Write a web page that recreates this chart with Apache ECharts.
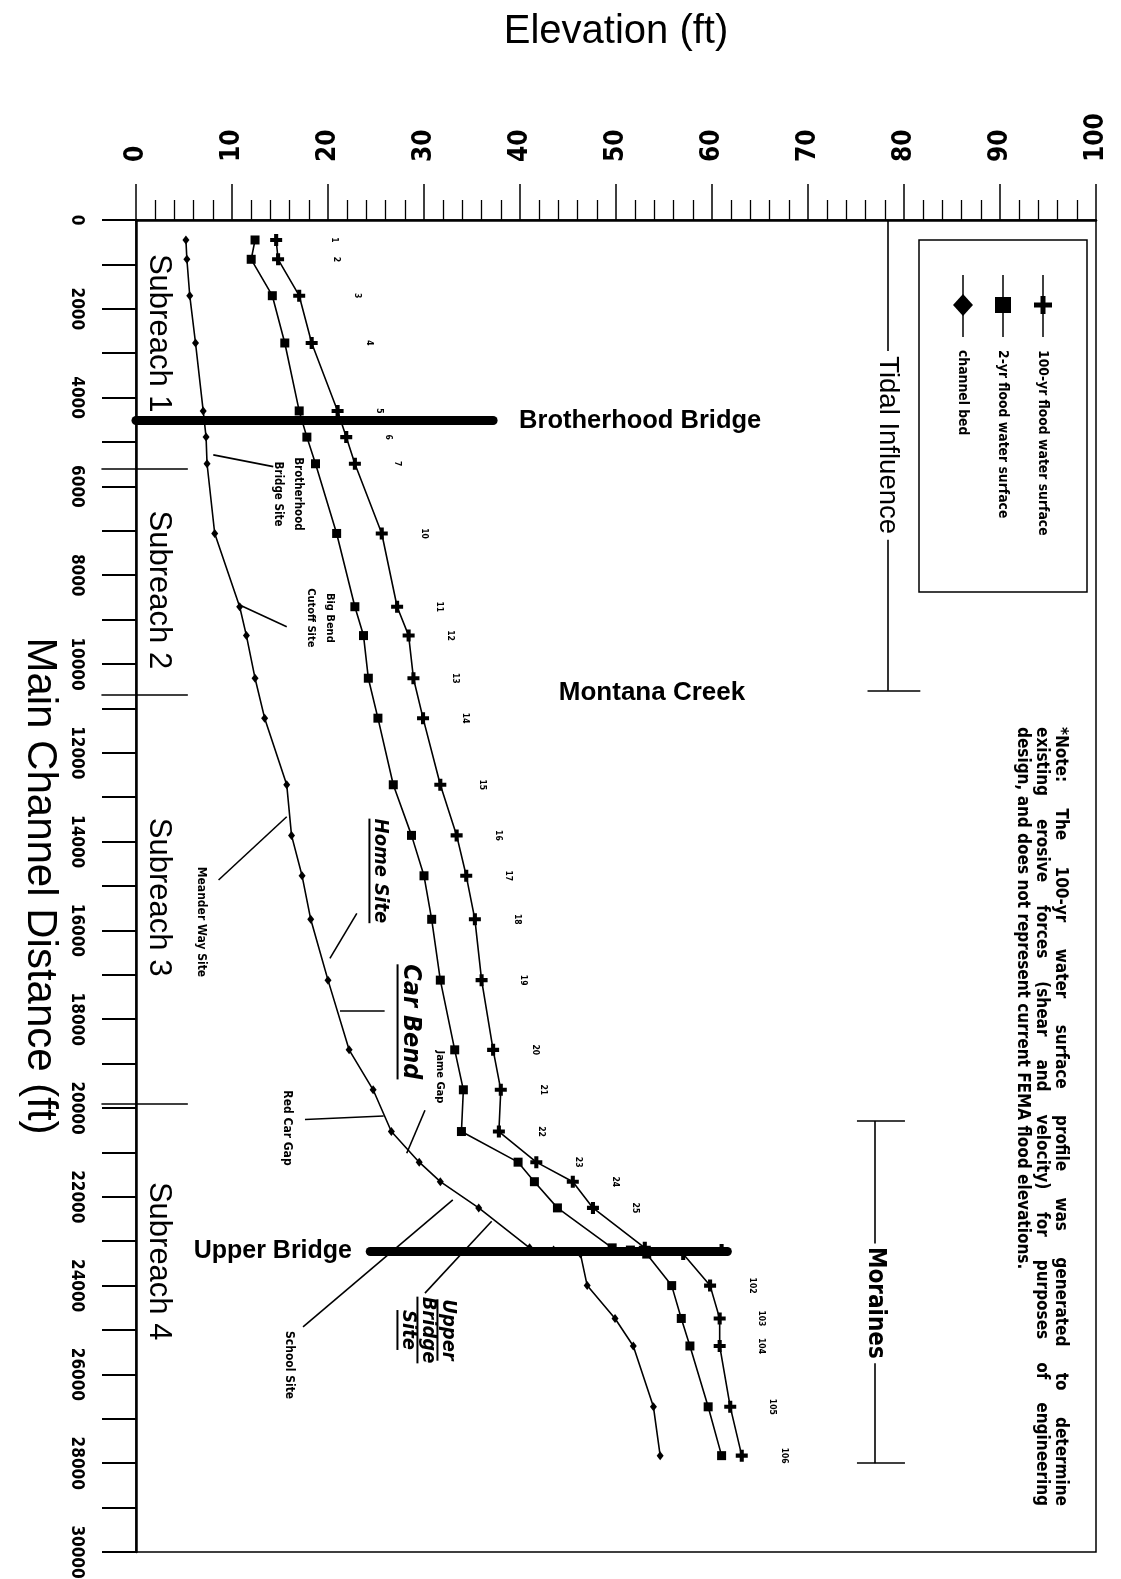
<!DOCTYPE html>
<html>
<head>
<meta charset="utf-8">
<script src="https://cdn.jsdelivr.net/npm/echarts@6/dist/echarts.min.js"></script>
<style>
  html, body { margin: 0; padding: 0; background: #fff; }
  #chart { width: 1121px; height: 1579px; }
</style>
</head>
<body>
<div id="chart"></div>
<script>
// Main channel distance of each surveyed cross-section (ft)
const distance = [450, 885, 1705, 2770, 4300, 4890, 5490, 7060, 8710, 9360,
  10320, 11220, 12720, 13860, 14770, 15750, 17120, 18690, 19590, 20530,
  21220, 21660, 22250, 23150, 23200, 23290, 24000, 24740, 25360, 26730, 27830];

// Elevation (ft) at each cross-section
const hundredYear = [14.6, 14.8, 17.0, 18.3, 21.0, 21.9, 22.8, 25.6, 27.2, 28.4,
  28.9, 29.9, 31.7, 33.4, 34.4, 35.3, 36.0, 37.2, 38.0, 37.8,
  41.7, 45.5, 47.6, 53.0, 61.0, 57.0, 59.8, 60.8, 60.8, 61.9, 63.1];
const twoYear = [12.4, 12.0, 14.2, 15.5, 17.0, 17.8, 18.7, 20.9, 22.8, 23.7,
  24.2, 25.2, 26.8, 28.7, 30.0, 30.8, 31.7, 33.2, 34.1, 33.9,
  39.8, 41.5, 43.9, 49.6, 51.5, 53.2, 55.8, 56.8, 57.7, 59.6, 61.0];
const channelBed = [5.2, 5.3, 5.6, 6.2, 7.0, 7.3, 7.4, 8.2, 10.8, 11.5,
  12.4, 13.4, 15.7, 16.2, 17.3, 18.2, 20.0, 22.2, 24.7, 26.6,
  29.5, 31.7, 35.7, 41.0, 43.5, 46.3, 47.0, 49.9, 51.8, 53.9, 54.6];

const seriesNames = ['100-yr flood water surface', '2-yr flood water surface', 'channel bed'];

// Cross-section numbers written beside the 100-yr profile (index into distance)
const stationIndex = [0, 1, 2, 3, 4, 5, 6, 7, 8, 9, 10, 11, 12, 13, 14, 15, 16, 17, 18, 19, 20, 21, 22, 26, 27, 28, 29, 30];
const stationNumber = ['1', '2', '3', '4', '5', '6', '7', '10', '11', '12', '13', '14', '15', '16', '17', '18', '19',
  '20', '21', '22', '23', '24', '25', '102', '103', '104', '105', '106'];

// Bridges: distance (ft) and elevation span (ft)
const bridgeNames = ['Brotherhood Bridge', 'Upper Bridge'];
const bridgeDistance = [4500, 23220];
const bridgeFrom = [0, 24.4];
const bridgeTo = [37.2, 61.6];

// Subreach boundaries and names
const subreachBounds = [5600, 10700, 19900];
const subreachNames = ['Subreach 1', 'Subreach 2', 'Subreach 3', 'Subreach 4'];
const subreachCentres = [2550, 8330, 15250, 23450];

// Axis ticks
const elevTicks = [0, 100, 10];
const distTicks = [0, 30000, 1000];

const noteLines = [
  '*Note: The 100-yr water surface profile was generated to determine',
  'existing erosive forces (shear and velocity) for purposes of engineering',
  'design, and does not represent current FEMA flood elevations.'
];

const NARROW = "'Liberation Sans Narrow','DejaVu Sans Condensed','Liberation Sans',Arial,sans-serif";
const SANS = "'Liberation Sans',Arial,sans-serif";
const plusPath = 'path://M3.3,0H6.7V3.3H10V6.7H6.7V10H3.3V6.7H0V3.3H3.3Z';

function profile(values) {
  return distance.map((d, i) => [values[i], d]);
}

// Text annotations placed in (elevation, distance) space
const annotations = [
  { text: 'Brotherhood\nBridge Site', at: [15.8, 6170], size: 11.5, lh: 20 },
  { text: 'Big Bend\nCutoff Site', at: [19.2, 8960], size: 11, lh: 19 },
  { text: 'Meander Way Site', at: [6.8, 15810], size: 12 },
  { text: 'Home Site', at: [25.4, 14660], size: 20, italic: true, underline: true },
  { text: 'Car Bend', at: [28.6, 18060], size: 25, italic: true, underline: true },
  { text: 'Jame Gap', at: [31.7, 19300], size: 11 },
  { text: 'Red Car Gap', at: [15.7, 20450], size: 12 },
  { text: 'School Site', at: [15.9, 25790], size: 12 },
  { text: 'Upper\nBridge\nSite', at: [30.4, 25000], size: 20, italic: true, lh: 20, underline: true },
  { text: 'Tidal Influence', at: [78.3, 5070], size: 27.5, weight: 'normal', font: SANS },
  { text: 'Moraines', at: [77.0, 24390], size: 24 },
  { text: bridgeNames[0], at: [39.9, 4520], size: 25.5, upright: true, align: 'left', font: SANS },
  { text: bridgeNames[1], at: [22.5, 23230], size: 25, upright: true, align: 'right', font: SANS },
  { text: 'Montana Creek', at: [53.75, 10650], size: 26, upright: true, font: SANS }
];
subreachNames.forEach((n, i) => {
  annotations.push({ text: n, at: [2.3, subreachCentres[i]], size: 31, font: SANS, weight: 'normal' });
});

// Leader lines, brackets and boundary marks
const guides = [
  [[8.05, 5290], [14.3, 5555]],
  [[10.8, 8670], [15.7, 9160]],
  [[15.7, 13440], [8.6, 14865]],
  [[23.0, 15615], [20.2, 16630]],
  [[21.25, 17800], [25.9, 17800]],
  [[30.1, 20050], [28.2, 21020]],
  [[17.6, 20260], [25.8, 20180]],
  [[33.0, 22070], [17.4, 24930]],
  [[37.05, 22550], [30.1, 24170]],
  // Tidal influence bracket
  [[78.3, 0], [78.3, 2950]],
  [[78.3, 7200], [78.3, 10600]],
  [[76.2, 10600], [81.7, 10600]],
  // Moraines bracket
  [[77.0, 20290], [77.0, 23050]],
  [[77.0, 25750], [77.0, 28000]],
  [[75.1, 20290], [80.1, 20290]],
  [[75.1, 28000], [80.1, 28000]]
];
subreachBounds.forEach(d => guides.push([[-3.6, d], [5.4, d]]));

const chart = echarts.init(document.getElementById('chart'), null, { renderer: 'canvas' });

const lineStyle = { color: '#000', width: 1.6 };

function labelFont(a) {
  return (a.italic ? 'italic ' : '') + (a.weight || 'bold') + ' ' + a.size + 'px ' + (a.font || NARROW);
}

const option = {
  animation: false,
  backgroundColor: '#fff',
  grid: {
    left: 136, top: 220, width: 960, height: 1332,
    show: true, borderColor: '#000', borderWidth: 1.5, backgroundColor: 'transparent',
    containLabel: false, outerBoundsMode: 'none'
  },
  xAxis: {
    type: 'value', position: 'top',
    min: elevTicks[0], max: elevTicks[1], interval: elevTicks[2],
    name: 'Elevation (ft)', nameLocation: 'middle', nameGap: 168,
    nameTextStyle: { fontSize: 40, color: '#000', fontFamily: SANS },
    axisLine: { show: true, onZero: false, lineStyle: { color: '#000', width: 2.5 } },
    axisTick: { show: true, length: 36, lineStyle: { color: '#000', width: 1.5 } },
    minorTick: { show: true, splitNumber: 5, length: 20, lineStyle: { color: '#000', width: 1.3 } },
    splitLine: { show: false },
    axisLabel: { rotate: -90, margin: 58, fontSize: 26, fontWeight: 'bold', color: '#000', fontFamily: NARROW }
  },
  yAxis: {
    type: 'value', inverse: true,
    min: distTicks[0], max: distTicks[1], interval: distTicks[2],
    name: 'Main Channel Distance (ft)', nameLocation: 'middle', nameRotate: -90, nameGap: 30,
    nameTextStyle: { fontSize: 42, color: '#000', fontFamily: SANS },
    axisLine: { show: true, onZero: false, lineStyle: { color: '#000', width: 2.5 } },
    axisTick: { show: true, length: 34, lineStyle: { color: '#000', width: 1.8 } },
    splitLine: { show: false },
    axisLabel: {
      rotate: -90, margin: 51, fontSize: 17, fontWeight: 'bold', color: '#000', fontFamily: NARROW,
      formatter: v => (v % 2000 === 0 ? String(v) : '')
    }
  },
  series: [
    {
      name: seriesNames[0], type: 'line', data: profile(hundredYear),
      symbol: plusPath, symbolSize: 12, showSymbol: true, showAllSymbol: true,
      lineStyle, itemStyle: { color: '#000' }, z: 3
    },
    {
      name: seriesNames[1], type: 'line', data: profile(twoYear),
      symbol: 'rect', symbolSize: 9, showSymbol: true, showAllSymbol: true,
      lineStyle, itemStyle: { color: '#000' }, z: 3
    },
    {
      name: seriesNames[2], type: 'line', data: profile(channelBed),
      symbol: 'diamond', symbolSize: [7, 9], showSymbol: true, showAllSymbol: true,
      lineStyle, itemStyle: { color: '#000' }, z: 3
    },
    {
      type: 'lines', coordinateSystem: 'cartesian2d', silent: true, clip: false, z: 2,
      lineStyle: { color: '#000', width: 1.6, opacity: 1 },
      data: guides.map(c => ({ coords: c }))
    },
    {
      type: 'lines', coordinateSystem: 'cartesian2d', silent: true, clip: false, z: 6,
      lineStyle: { color: '#000', width: 9, opacity: 1, cap: 'round' },
      data: bridgeDistance.map((d, i) => ({ coords: [[bridgeFrom[i], d], [bridgeTo[i], d]] }))
    },
    {
      type: 'scatter', silent: true, symbolSize: 0, z: 4, itemStyle: { opacity: 1 },
      data: stationIndex.map((idx, k) => ({
        value: [hundredYear[idx], distance[idx]],
        label: {
          show: true, formatter: stationNumber[k], position: 'inside',
          offset: [0, k < 4 ? -58 : -42], rotate: -90,
          fontSize: 8.5, fontWeight: 'bold', color: '#000', fontFamily: NARROW
        }
      }))
    },
    {
      type: 'scatter', silent: true, symbolSize: 0, z: 8, itemStyle: { opacity: 1 },
      data: annotations.map(a => ({
        value: a.at,
        label: {
          show: true, formatter: a.text, position: 'inside',
          rotate: a.upright ? 0 : -90,
          align: a.align || 'center', verticalAlign: 'middle',
          fontSize: a.size, lineHeight: a.lh || Math.round(a.size * 1.15),
          fontWeight: a.weight || 'bold', fontStyle: a.italic ? 'italic' : 'normal',
          fontFamily: a.font || NARROW, color: '#000', opacity: 1
        }
      }))
    }
  ]
};

chart.setOption(option);

// Text measurement for the rotated legend, note and underlines
const measureCtx = document.createElement('canvas').getContext('2d');
function textWidth(t, font) {
  measureCtx.font = font;
  return measureCtx.measureText(t).width;
}
const ROT = -Math.PI / 2;

const graphics = [];

// Legend box with rotated entries
const legendX = [1043, 1003, 963];
graphics.push({ type: 'rect', shape: { x: 919, y: 240, width: 168, height: 352 },
  style: { fill: 'none', stroke: '#000', lineWidth: 1.5 } });
seriesNames.forEach((n, i) => {
  const x = legendX[i];
  graphics.push({ type: 'line', shape: { x1: x, y1: 275, x2: x, y2: 337 }, style: { stroke: '#000', lineWidth: 1.5 } });
  if (i === 0) {
    graphics.push({ type: 'rect', shape: { x: x - 2.5, y: 296, width: 5, height: 18 }, style: { fill: '#000' } });
    graphics.push({ type: 'rect', shape: { x: x - 9, y: 302.5, width: 18, height: 5 }, style: { fill: '#000' } });
  } else if (i === 1) {
    graphics.push({ type: 'rect', shape: { x: x - 8, y: 297, width: 16, height: 16 }, style: { fill: '#000' } });
  } else {
    graphics.push({ type: 'polygon', shape: { points: [[x, 294], [x + 10, 305], [x, 316], [x - 10, 305]] }, style: { fill: '#000' } });
  }
  graphics.push({ type: 'text', x: x, y: 350, rotation: ROT,
    style: { text: n, fill: '#000', font: 'bold 13.8px ' + NARROW, textAlign: 'left', textVerticalAlign: 'middle' } });
});

// Note block: justified paragraph, last line set naturally
const noteX = [1060, 1041, 1022];
const noteTop = 727, noteLength = 779;
const noteFont = 'bold 17px ' + NARROW;
noteLines.forEach((t, i) => {
  const last = i === noteLines.length - 1;
  if (last) {
    graphics.push({ type: 'text', x: noteX[i], y: noteTop, rotation: ROT,
      style: { text: t, fill: '#000', font: noteFont, textAlign: 'left', textVerticalAlign: 'middle' } });
    return;
  }
  const words = t.split(' ');
  const widths = words.map(w => textWidth(w, noteFont));
  const total = widths.reduce((s, w) => s + w, 0);
  const gap = (noteLength - total) / (words.length - 1);
  let pos = noteTop;
  words.forEach((w, k) => {
    graphics.push({ type: 'text', x: noteX[i], y: pos, rotation: ROT,
      style: { text: w, fill: '#000', font: noteFont, textAlign: 'left', textVerticalAlign: 'middle' } });
    pos += widths[k] + gap;
  });
});

// Underlines beneath the emphasised site names (baseline side faces left)
annotations.filter(a => a.underline).forEach(a => {
  const p = chart.convertToPixel({ gridIndex: 0 }, a.at);
  const lines = a.text.split('\n');
  const lh = a.lh || Math.round(a.size * 1.15);
  const font = labelFont(a);
  lines.forEach((ln, k) => {
    const cx = p[0] + ((lines.length - 1) / 2 - k) * lh;
    const w = textWidth(ln, font);
    const ux = cx - a.size * 0.52;
    graphics.push({ type: 'line', shape: { x1: ux, y1: p[1] - w / 2, x2: ux, y2: p[1] + w / 2 },
      style: { stroke: '#000', lineWidth: 2 } });
  });
});

chart.setOption({ graphic: graphics });
</script>
</body>
</html>
